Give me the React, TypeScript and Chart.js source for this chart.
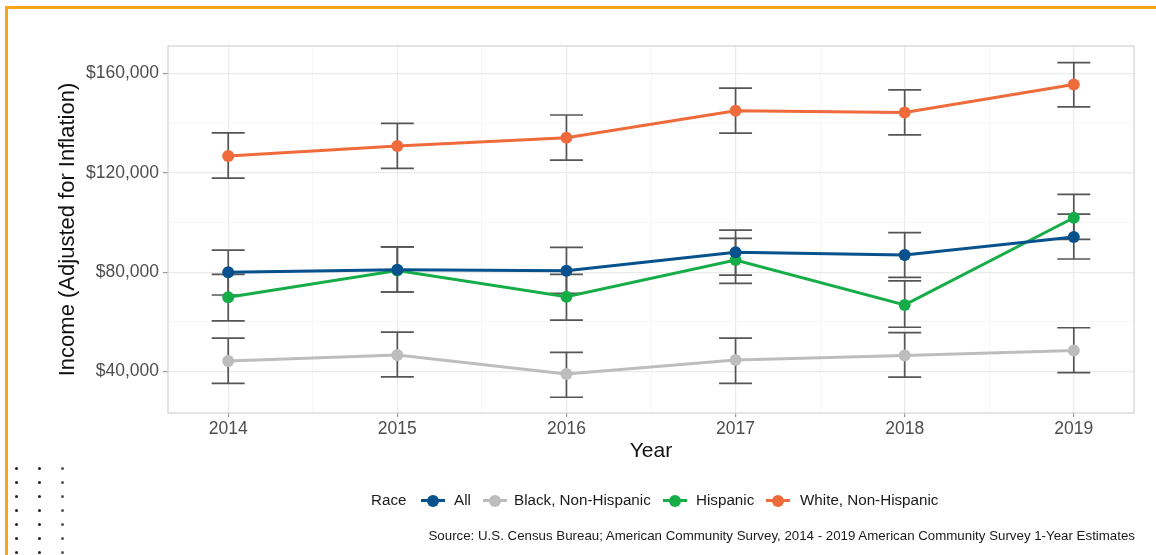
import React, { useEffect, useRef } from "react";
import { Chart, registerables } from "chart.js";

Chart.register(...registerables);

// ---- data ----
const years = [2014, 2015, 2016, 2017, 2018, 2019];

const allIncome = [80000, 81000, 80600, 88000, 86900, 94200];
const allLow = [70800, 72000, 71500, 78800, 77900, 85300];
const allHigh = [88900, 90200, 90000, 96900, 95900, 103400];

const blackIncome = [44200, 46600, 39000, 44600, 46400, 48400];
const blackLow = [35200, 37800, 29600, 35200, 37700, 39500];
const blackHigh = [53400, 55800, 47700, 53400, 55600, 57600];

const hispIncome = [69900, 80700, 70100, 84900, 66800, 101900];
const hispLow = [60400, 72000, 60700, 75500, 57800, 93200];
const hispHigh = [79100, 90200, 79100, 93600, 76500, 111300];

const whiteIncome = [126800, 130800, 134100, 145000, 144300, 155600];
const whiteLow = [117900, 121800, 125100, 136000, 135300, 146600];
const whiteHigh = [136100, 139900, 143300, 154100, 153400, 164400];

const seriesNames = ["All", "Black, Non-Hispanic", "Hispanic", "White, Non-Hispanic"];
const seriesColors = ["#07518c", "#bdbdbd", "#16ad48", "#ef6b3b"];

const yMajorTicks = [40000, 80000, 120000, 160000];
const yMinorTicks = [60000, 100000, 140000];
const xMajorTicks = [2014, 2015, 2016, 2017, 2018, 2019];
const xMinorTicks = [2014.5, 2015.5, 2016.5, 2017.5, 2018.5];

const sourceText =
  "Source: U.S. Census Bureau; American Community Survey, 2014 - 2019 American Community Survey 1-Year Estimates";

const FONT = '"Liberation Sans", Arial, Helvetica, sans-serif';

const seriesValues = [allIncome, blackIncome, hispIncome, whiteIncome];
const seriesLow = [allLow, blackLow, hispLow, whiteLow];
const seriesHigh = [allHigh, blackHigh, hispHigh, whiteHigh];

const panelPlugin = {
  id: "panelAndErrorBars",
  beforeDatasetsDraw(chart: any) {
    const { ctx, chartArea, scales } = chart;
    const xs = scales.x;
    const ys = scales.y;
    ctx.save();
    // panel border
    ctx.strokeStyle = "#d6d6d6";
    ctx.lineWidth = 1.3;
    ctx.strokeRect(chartArea.left, chartArea.top, chartArea.right - chartArea.left, chartArea.bottom - chartArea.top);
    // error bars
    ctx.strokeStyle = "#555555";
    ctx.lineWidth = 1.7;
    const half = 16.5;
    for (let s = 0; s < seriesValues.length; s++) {
      for (let j = 0; j < years.length; j++) {
        const x = xs.getPixelForValue(years[j]);
        const yl = ys.getPixelForValue(seriesLow[s][j]);
        const yh = ys.getPixelForValue(seriesHigh[s][j]);
        ctx.beginPath();
        ctx.moveTo(x, yh);
        ctx.lineTo(x, yl);
        ctx.moveTo(x - half, yh);
        ctx.lineTo(x + half, yh);
        ctx.moveTo(x - half, yl);
        ctx.lineTo(x + half, yl);
        ctx.stroke();
      }
    }
    ctx.restore();
  },
};

function LegendItem({ color, center }: { color: string; center: number }) {
  return (
    <div style={{ position: "absolute", left: center - 12, top: 490, width: 24, height: 20 }}>
      <div style={{ position: "absolute", left: 0, top: 8.5, width: 24, height: 3, background: color }} />
      <div
        style={{
          position: "absolute",
          left: 6,
          top: 4.5,
          width: 12,
          height: 12,
          borderRadius: "50%",
          background: color,
        }}
      />
    </div>
  );
}

function LegendText({ text, left }: { text: string; left: number }) {
  return (
    <div
      style={{
        position: "absolute",
        left,
        top: 490,
        height: 20,
        lineHeight: "20px",
        fontSize: 15.2,
        color: "#1a1a1a",
        whiteSpace: "nowrap",
        fontFamily: FONT,
      }}
    >
      {text}
    </div>
  );
}

export default function App() {
  const canvasRef = useRef<HTMLCanvasElement | null>(null);

  useEffect(() => {
    const canvas = canvasRef.current;
    if (!canvas) return;
    const datasets = seriesNames.map((name, s) => ({
      label: name,
      data: years.map((y, j) => ({ x: y, y: seriesValues[s][j] })),
      borderColor: seriesColors[s],
      backgroundColor: seriesColors[s],
      borderWidth: 3,
      pointRadius: 6,
      pointHoverRadius: 6,
      pointBorderWidth: 0,
      tension: 0,
      fill: false,
    }));

    const isMajorX = (v: number) => xMajorTicks.includes(v);
    const isMajorY = (v: number) => yMajorTicks.includes(v);

    const chart = new Chart(canvas, {
      type: "line",
      data: { datasets },
      plugins: [panelPlugin],
      options: {
        animation: false,
        responsive: false,
        maintainAspectRatio: false,
        layout: { padding: { left: 0, right: 22, top: 46, bottom: 91 } },
        plugins: {
          legend: { display: false },
          tooltip: { enabled: false },
        },
        scales: {
          x: {
            type: "linear",
            min: 2013.644,
            max: 2019.356,
            afterBuildTicks: (scale: any) => {
              scale.ticks = [...xMajorTicks, ...xMinorTicks].sort((a, b) => a - b).map((v) => ({ value: v }));
            },
            afterFit: (scale: any) => {
              scale.height = 51;
            },
            ticks: {
              autoSkip: false,
              maxRotation: 0,
              padding: 2,
              color: "#4d4d4d",
              font: { family: FONT, size: 17.5 },
              callback: (v: any) => (isMajorX(Number(v)) ? String(v) : ""),
            },
            grid: {
              color: (c: any) => (isMajorX(c.tick?.value) ? "#ebebeb" : "#f4f4f4"),
              lineWidth: (c: any) => (isMajorX(c.tick?.value) ? 1.2 : 0.8),
              tickLength: 4,
              tickColor: (c: any) => (isMajorX(c.tick?.value) ? "#9a9a9a" : "rgba(0,0,0,0)"),
            },
            border: { display: false },
            title: {
              display: true,
              text: "Year",
              color: "#111111",
              font: { family: FONT, size: 21 },
              padding: { top: 0, bottom: 0 },
            },
          },
          y: {
            type: "linear",
            min: 23260,
            max: 171100,
            afterBuildTicks: (scale: any) => {
              scale.ticks = [...yMajorTicks, ...yMinorTicks].sort((a, b) => a - b).map((v) => ({ value: v }));
            },
            afterFit: (scale: any) => {
              scale.width = 168;
            },
            ticks: {
              autoSkip: false,
              padding: 4,
              color: "#4d4d4d",
              font: { family: FONT, size: 17.5 },
              callback: (v: any) => (isMajorY(Number(v)) ? "$" + Number(v).toLocaleString("en-US") : ""),
            },
            grid: {
              color: (c: any) => (isMajorY(c.tick?.value) ? "#ebebeb" : "#f4f4f4"),
              lineWidth: (c: any) => (isMajorY(c.tick?.value) ? 1.2 : 0.8),
              tickLength: 5,
              tickColor: (c: any) => (isMajorY(c.tick?.value) ? "#9a9a9a" : "rgba(0,0,0,0)"),
            },
            border: { display: false },
            title: {
              display: true,
              text: "Income (Adjusted for Inflation)",
              color: "#111111",
              font: { family: FONT, size: 22 },
              padding: { top: 55, bottom: 0 },
            },
          },
        },
      } as any,
    });
    return () => chart.destroy();
  }, []);

  const dotCols = [16.5, 39.5, 62];
  const dotRows = [468, 482, 496, 510, 524, 538, 552];

  return (
    <div
      style={{
        position: "fixed",
        left: 0,
        top: 0,
        width: 1156,
        height: 555,
        background: "#ffffff",
        overflow: "hidden",
        fontFamily: FONT,
      }}
    >
      <canvas ref={canvasRef} width={1156} height={555} style={{ position: "absolute", left: 0, top: 0, width: 1156, height: 555 }} />
      {/* orange frame */}
      <div
        style={{
          position: "absolute",
          left: 5,
          top: 6,
          width: 1200,
          height: 600,
          borderLeft: "3px solid #f9a51a",
          borderTop: "3px solid #f9a51a",
        }}
      />
      {/* dotted decoration */}
      {dotCols.map((cx, ci) =>
        dotRows.map((cy, ri) => (
          <div
            key={`d${ci}-${ri}`}
            style={{
              position: "absolute",
              left: cx - 1.5,
              top: cy - 1.5,
              width: 3,
              height: 3,
              borderRadius: "50%",
              background: ci === 2 ? "#555" : "#222",
            }}
          />
        ))
      )}
      {/* legend */}
      <LegendText text="Race" left={371} />
      <LegendItem color={seriesColors[0]} center={432.5} />
      <LegendText text={seriesNames[0]} left={454} />
      <LegendItem color={seriesColors[1]} center={494.5} />
      <LegendText text={seriesNames[1]} left={514} />
      <LegendItem color={seriesColors[2]} center={675} />
      <LegendText text={seriesNames[2]} left={696} />
      <LegendItem color={seriesColors[3]} center={777.5} />
      <LegendText text={seriesNames[3]} left={800} />
      {/* source caption */}
      <div
        style={{
          position: "absolute",
          right: 21,
          top: 527,
          height: 18,
          lineHeight: "18px",
          fontSize: 13.3,
          color: "#1a1a1a",
          whiteSpace: "nowrap",
          fontFamily: FONT,
        }}
      >
        {sourceText}
      </div>
    </div>
  );
}
